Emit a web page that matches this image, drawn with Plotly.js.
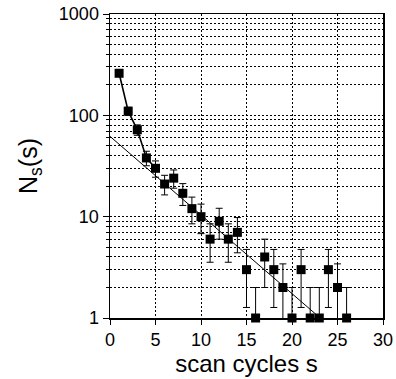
<!DOCTYPE html>
<html>
<head>
<meta charset="utf-8">
<script src="https://cdn.plot.ly/plotly-3.0.1.min.js"></script>
<style>html,body{margin:0;padding:0;background:#fff;}#chart{width:396px;height:379px;}</style>
</head>
<body>
<div id="chart"></div>
<script>
// scan cycle index s
const scanCycles = [1,2,3,4,5,6,7,8,9,10,11,12,13,14,15,16,17,18,19,20,21,22,23,24,25,26];
// N_s(s) counts
const counts = [260,110,72,38,30,21,24,17,12,10,6,9,6,7,3,1,4,3,2,1,3,1,1,3,2,1];
// error bars (upper / lower)
const errPlus  = [16,10,8.5,6.2,5.5,4.6,4.9,4.2,3.6,3.3,2.5,3.1,2.5,2.8,1.75,1.0,2.0,1.75,1.42,1.0,1.75,1.0,1.0,1.75,1.42,1.0];
const errMinus = [16,10,8.5,6.2,5.5,4.6,4.9,4.1,3.5,3.2,2.45,3.0,2.45,2.6,1.73,0,2.0,1.73,1.41,0,1.73,0,0,1.73,1.41,0];
// exponential fit line endpoints
const fitX = [0, 23.1];
const fitY = [62, 1];
// connecting curve through the first points
const nCurve = 5;
// tick labels
const xTicks = [0,5,10,15,20,25,30];
const yTicks = [1,10,100,1000];
const yTickText = ["1","10","100","1000"];
const yMinor = [2,3,4,5,6,7,8,9,20,30,40,50,60,70,80,90,200,300,400,500,600,700,800,900];

const traces = [
  {
    x: fitX, y: fitY, mode: 'lines', type: 'scatter',
    line: {color: '#000', width: 1}, hoverinfo: 'skip', showlegend: false
  },
  {
    x: scanCycles.slice(0, nCurve), y: counts.slice(0, nCurve), mode: 'lines', type: 'scatter',
    line: {color: '#000', width: 1.6}, hoverinfo: 'skip', showlegend: false
  },
  {
    x: scanCycles, y: counts, mode: 'markers', type: 'scatter',
    marker: {symbol: 'square', size: 0.1, color: 'rgba(0,0,0,0)'},
    error_y: {type: 'data', symmetric: false, array: errPlus, arrayminus: errMinus,
              color: '#000', thickness: 1, width: 3.5},
    cliponaxis: true, showlegend: false
  },
  {
    x: scanCycles, y: counts, mode: 'markers', type: 'scatter',
    marker: {symbol: 'square', size: 9, color: '#000'},
    cliponaxis: false, showlegend: false
  }
];

const gridDash = '2px,2px';
const layout = {
  width: 396, height: 379,
  margin: {l: 110, r: 13, t: 14, b: 60.5},
  paper_bgcolor: '#fff', plot_bgcolor: '#fff',
  font: {family: '"Liberation Sans", Arial, Helvetica, sans-serif', color: '#000', size: 18},
  showlegend: false,
  xaxis: {
    range: [0, 30], tickvals: xTicks, ticks: 'outside', ticklen: 5, tickwidth: 1, tickcolor: '#000',
    showline: true, mirror: true, linecolor: '#000', linewidth: 1.5,
    showgrid: true, gridcolor: '#000', gridwidth: 1, griddash: gridDash, zeroline: false,
    tickfont: {size: 18},
    title: {text: 'scan cycles s', font: {size: 24}, standoff: 6}
  },
  yaxis: {
    type: 'log', range: [0, 3], tickvals: yTicks, ticktext: yTickText,
    ticks: 'outside', ticklen: 6, tickwidth: 1, tickcolor: '#000',
    showline: true, mirror: true, linecolor: '#000', linewidth: 1.5,
    showgrid: true, gridcolor: '#000', gridwidth: 1, griddash: gridDash, zeroline: false,
    minor: {tickvals: yMinor, ticks: 'outside', ticklen: 3, tickcolor: '#000',
            showgrid: true, gridcolor: '#000', gridwidth: 1, griddash: gridDash},
    tickfont: {size: 18},
    title: {text: 'N<sub>s</sub>(s)', font: {size: 25}, standoff: 14}
  }
};

Plotly.newPlot('chart', traces, layout, {staticPlot: true, displayModeBar: false});
</script>
</body>
</html>
